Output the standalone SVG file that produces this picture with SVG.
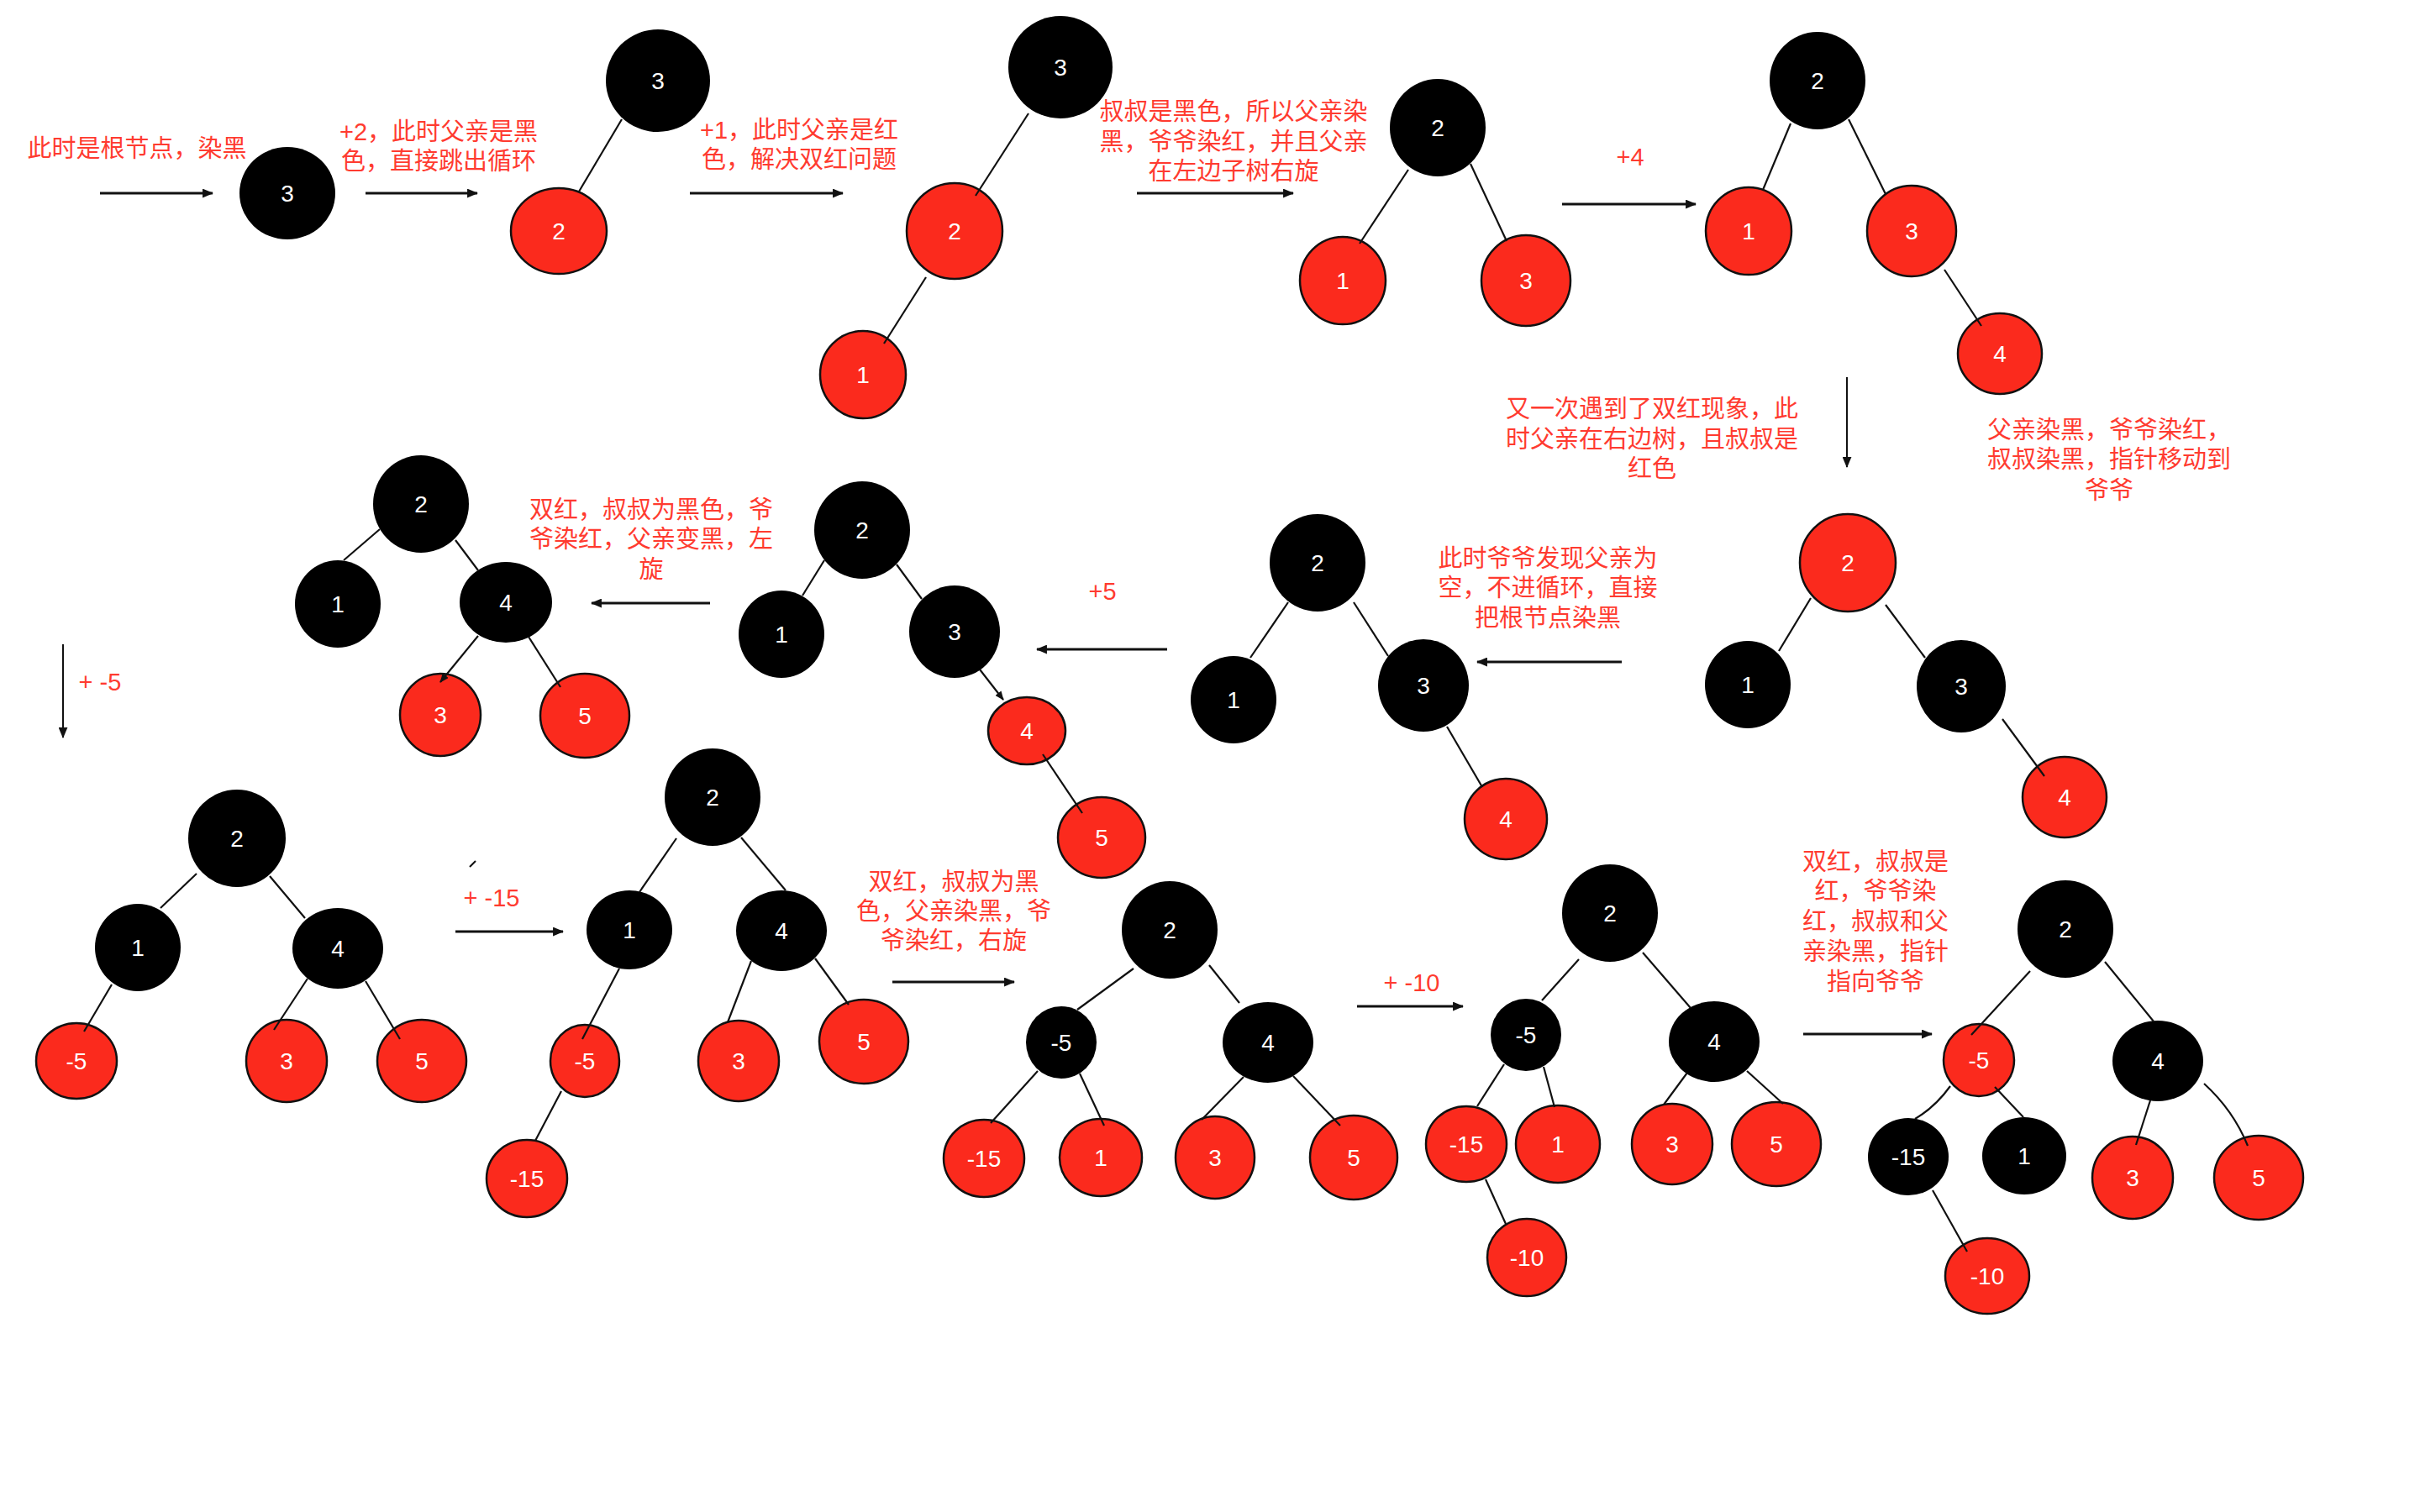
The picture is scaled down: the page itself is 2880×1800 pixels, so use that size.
<svg xmlns="http://www.w3.org/2000/svg" width="2880" height="1800" viewBox="0 0 2880 1800">
<defs>
<style>
.b{fill:#000}
.r{fill:#FB2A1D;stroke:#111;stroke-width:2.5}
.lbl{fill:#fff;font-family:"Liberation Sans","Noto Sans",sans-serif;font-size:28px;text-anchor:middle}
.note{fill:#FF3B30;font-family:"Liberation Sans","Noto Sans CJK SC",sans-serif;font-size:29px;text-anchor:middle}
.edge{stroke:#111;stroke-width:2.2;fill:none}
.arrow{stroke:#111;stroke-width:2.8;fill:none;marker-end:url(#ah)}
.arrowt{stroke:#111;stroke-width:2;fill:none;marker-end:url(#ah)}
.edgea{stroke:#111;stroke-width:2.2;fill:none;marker-end:url(#ah2)}
</style>
<marker id="ah" viewBox="0 0 12 10" refX="11" refY="5" markerWidth="13" markerHeight="11" markerUnits="userSpaceOnUse" orient="auto"><path d="M0,0 L12,5 L0,10 z" fill="#111"/></marker>
<marker id="ah2" viewBox="0 0 12 10" refX="11" refY="5" markerWidth="11" markerHeight="9" markerUnits="userSpaceOnUse" orient="auto"><path d="M0,0 L12,5 L0,10 z" fill="#111"/></marker>
</defs>
<rect width="2880" height="1800" fill="#fff"/>

<!-- notes -->
<g id="notes">
<text class="note" x="163" y="187">此时是根节点，染黑</text>
<text class="note" x="522" y="167">+2，此时父亲是黑</text>
<text class="note" x="522" y="202">色，直接跳出循环</text>
<text class="note" x="951" y="165">+1，此时父亲是红</text>
<text class="note" x="951" y="200">色，解决双红问题</text>
<text class="note" x="1468" y="143">叔叔是黑色，所以父亲染</text>
<text class="note" x="1468" y="179">黑，爷爷染红，并且父亲</text>
<text class="note" x="1468" y="214">在左边子树右旋</text>
<text class="note" x="1940" y="197">+4</text>
<text class="note" x="1966" y="497">又一次遇到了双红现象，此</text>
<text class="note" x="1966" y="533">时父亲在右边树，且叔叔是</text>
<text class="note" x="1966" y="568">红色</text>
<text class="note" x="2510" y="522">父亲染黑，爷爷染红，</text>
<text class="note" x="2510" y="557">叔叔染黑，指针移动到</text>
<text class="note" x="2510" y="594">爷爷</text>
<text class="note" x="1842" y="675">此时爷爷发现父亲为</text>
<text class="note" x="1842" y="710">空，不进循环，直接</text>
<text class="note" x="1842" y="746">把根节点染黑</text>
<text class="note" x="1312" y="714">+5</text>
<text class="note" x="775" y="617">双红，叔叔为黑色，爷</text>
<text class="note" x="775" y="652">爷染红，父亲变黑，左</text>
<text class="note" x="775" y="688">旋</text>
<text class="note" x="119" y="822">+ -5</text>
<text class="note" x="585" y="1079">+ -15</text>
<text class="note" x="1135" y="1060">双红，叔叔为黑</text>
<text class="note" x="1135" y="1095">色，父亲染黑，爷</text>
<text class="note" x="1135" y="1130">爷染红，右旋</text>
<text class="note" x="1680" y="1180">+ -10</text>
<text class="note" x="2232" y="1036">双红，叔叔是</text>
<text class="note" x="2232" y="1071">红，爷爷染</text>
<text class="note" x="2232" y="1107">红，叔叔和父</text>
<text class="note" x="2232" y="1143">亲染黑，指针</text>
<text class="note" x="2232" y="1179">指向爷爷</text>
</g>

<!-- nodes -->
<g id="n1"><ellipse class="b" cx="342" cy="230" rx="57" ry="55"/><text class="lbl" x="342" y="240">3</text></g>

<g id="tA-3"><ellipse class="b" cx="783" cy="96" rx="62" ry="61"/><text class="lbl" x="783" y="106">3</text></g>
<g id="tA-2"><ellipse class="r" cx="665" cy="275" rx="57" ry="51"/><text class="lbl" x="665" y="285">2</text></g>

<g id="tB-3"><ellipse class="b" cx="1262" cy="80" rx="62" ry="61"/><text class="lbl" x="1262" y="90">3</text></g>
<g id="tB-2"><ellipse class="r" cx="1136" cy="275" rx="57" ry="57"/><text class="lbl" x="1136" y="285">2</text></g>
<g id="tB-1"><ellipse class="r" cx="1027" cy="446" rx="51" ry="52"/><text class="lbl" x="1027" y="456">1</text></g>

<g id="tC-2"><ellipse class="b" cx="1711" cy="152" rx="57" ry="58"/><text class="lbl" x="1711" y="162">2</text></g>
<g id="tC-1"><ellipse class="r" cx="1598" cy="334" rx="51" ry="52"/><text class="lbl" x="1598" y="344">1</text></g>
<g id="tC-3"><ellipse class="r" cx="1816" cy="334" rx="53" ry="54"/><text class="lbl" x="1816" y="344">3</text></g>

<g id="tD-2"><ellipse class="b" cx="2163" cy="96" rx="57" ry="58"/><text class="lbl" x="2163" y="106">2</text></g>
<g id="tD-1"><ellipse class="r" cx="2081" cy="275" rx="51" ry="52"/><text class="lbl" x="2081" y="285">1</text></g>
<g id="tD-3"><ellipse class="r" cx="2275" cy="275" rx="53" ry="54"/><text class="lbl" x="2275" y="285">3</text></g>
<g id="tD-4"><ellipse class="r" cx="2380" cy="421" rx="50" ry="48"/><text class="lbl" x="2380" y="431">4</text></g>

<g id="tE-2"><ellipse class="r" cx="2199" cy="670" rx="57" ry="58"/><text class="lbl" x="2199" y="680">2</text></g>
<g id="tE-1"><ellipse class="b" cx="2080" cy="815" rx="51" ry="52"/><text class="lbl" x="2080" y="825">1</text></g>
<g id="tE-3"><ellipse class="b" cx="2334" cy="817" rx="53" ry="55"/><text class="lbl" x="2334" y="827">3</text></g>
<g id="tE-4"><ellipse class="r" cx="2457" cy="949" rx="50" ry="48"/><text class="lbl" x="2457" y="959">4</text></g>

<g id="tF-2"><ellipse class="b" cx="1568" cy="670" rx="57" ry="58"/><text class="lbl" x="1568" y="680">2</text></g>
<g id="tF-1"><ellipse class="b" cx="1468" cy="833" rx="51" ry="52"/><text class="lbl" x="1468" y="843">1</text></g>
<g id="tF-3"><ellipse class="b" cx="1694" cy="816" rx="54" ry="55"/><text class="lbl" x="1694" y="826">3</text></g>
<g id="tF-4"><ellipse class="r" cx="1792" cy="975" rx="49" ry="48"/><text class="lbl" x="1792" y="985">4</text></g>

<g id="tG-2"><ellipse class="b" cx="1026" cy="631" rx="57" ry="58"/><text class="lbl" x="1026" y="641">2</text></g>
<g id="tG-1"><ellipse class="b" cx="930" cy="755" rx="51" ry="52"/><text class="lbl" x="930" y="765">1</text></g>
<g id="tG-3"><ellipse class="b" cx="1136" cy="752" rx="54" ry="55"/><text class="lbl" x="1136" y="762">3</text></g>
<g id="tG-4"><ellipse class="r" cx="1222" cy="870" rx="46" ry="40"/><text class="lbl" x="1222" y="880">4</text></g>
<g id="tG-5"><ellipse class="r" cx="1311" cy="997" rx="52" ry="48"/><text class="lbl" x="1311" y="1007">5</text></g>

<g id="tH-2"><ellipse class="b" cx="501" cy="600" rx="57" ry="58"/><text class="lbl" x="501" y="610">2</text></g>
<g id="tH-1"><ellipse class="b" cx="402" cy="719" rx="51" ry="52"/><text class="lbl" x="402" y="729">1</text></g>
<g id="tH-4"><ellipse class="b" cx="602" cy="717" rx="55" ry="48"/><text class="lbl" x="602" y="727">4</text></g>
<g id="tH-3"><ellipse class="r" cx="524" cy="851" rx="48" ry="49"/><text class="lbl" x="524" y="861">3</text></g>
<g id="tH-5"><ellipse class="r" cx="696" cy="852" rx="53" ry="50"/><text class="lbl" x="696" y="862">5</text></g>

<g id="tI-2"><ellipse class="b" cx="282" cy="998" rx="58" ry="58"/><text class="lbl" x="282" y="1008">2</text></g>
<g id="tI-1"><ellipse class="b" cx="164" cy="1128" rx="51" ry="52"/><text class="lbl" x="164" y="1138">1</text></g>
<g id="tI-4"><ellipse class="b" cx="402" cy="1129" rx="54" ry="48"/><text class="lbl" x="402" y="1139">4</text></g>
<g id="tI-m5"><ellipse class="r" cx="91" cy="1263" rx="48" ry="45"/><text class="lbl" x="91" y="1273">-5</text></g>
<g id="tI-3"><ellipse class="r" cx="341" cy="1263" rx="48" ry="49"/><text class="lbl" x="341" y="1273">3</text></g>
<g id="tI-5"><ellipse class="r" cx="502" cy="1263" rx="53" ry="49"/><text class="lbl" x="502" y="1273">5</text></g>

<g id="tJ-2"><ellipse class="b" cx="848" cy="949" rx="57" ry="58"/><text class="lbl" x="848" y="959">2</text></g>
<g id="tJ-1"><ellipse class="b" cx="749" cy="1107" rx="51" ry="47"/><text class="lbl" x="749" y="1117">1</text></g>
<g id="tJ-4"><ellipse class="b" cx="930" cy="1108" rx="54" ry="48"/><text class="lbl" x="930" y="1118">4</text></g>
<g id="tJ-m5"><ellipse class="r" cx="696" cy="1263" rx="41" ry="43"/><text class="lbl" x="696" y="1273">-5</text></g>
<g id="tJ-3"><ellipse class="r" cx="879" cy="1263" rx="48" ry="48"/><text class="lbl" x="879" y="1273">3</text></g>
<g id="tJ-5"><ellipse class="r" cx="1028" cy="1240" rx="53" ry="50"/><text class="lbl" x="1028" y="1250">5</text></g>
<g id="tJ-m15"><ellipse class="r" cx="627" cy="1403" rx="48" ry="46"/><text class="lbl" x="627" y="1413">-15</text></g>

<g id="tK-2"><ellipse class="b" cx="1392" cy="1107" rx="57" ry="58"/><text class="lbl" x="1392" y="1117">2</text></g>
<g id="tK-m5"><ellipse class="b" cx="1263" cy="1241" rx="42" ry="43"/><text class="lbl" x="1263" y="1251">-5</text></g>
<g id="tK-4"><ellipse class="b" cx="1509" cy="1241" rx="54" ry="48"/><text class="lbl" x="1509" y="1251">4</text></g>
<g id="tK-m15"><ellipse class="r" cx="1171" cy="1379" rx="48" ry="46"/><text class="lbl" x="1171" y="1389">-15</text></g>
<g id="tK-1"><ellipse class="r" cx="1310" cy="1378" rx="49" ry="46"/><text class="lbl" x="1310" y="1388">1</text></g>
<g id="tK-3"><ellipse class="r" cx="1446" cy="1378" rx="47" ry="49"/><text class="lbl" x="1446" y="1388">3</text></g>
<g id="tK-5"><ellipse class="r" cx="1611" cy="1378" rx="52" ry="50"/><text class="lbl" x="1611" y="1388">5</text></g>

<g id="tL-2"><ellipse class="b" cx="1916" cy="1087" rx="57" ry="58"/><text class="lbl" x="1916" y="1097">2</text></g>
<g id="tL-m5"><ellipse class="b" cx="1816" cy="1232" rx="42" ry="43"/><text class="lbl" x="1816" y="1242">-5</text></g>
<g id="tL-4"><ellipse class="b" cx="2040" cy="1240" rx="54" ry="48"/><text class="lbl" x="2040" y="1250">4</text></g>
<g id="tL-m15"><ellipse class="r" cx="1745" cy="1362" rx="48" ry="45"/><text class="lbl" x="1745" y="1372">-15</text></g>
<g id="tL-1"><ellipse class="r" cx="1854" cy="1362" rx="50" ry="46"/><text class="lbl" x="1854" y="1372">1</text></g>
<g id="tL-3"><ellipse class="r" cx="1990" cy="1362" rx="48" ry="48"/><text class="lbl" x="1990" y="1372">3</text></g>
<g id="tL-5"><ellipse class="r" cx="2114" cy="1362" rx="53" ry="50"/><text class="lbl" x="2114" y="1372">5</text></g>
<g id="tL-m10"><ellipse class="r" cx="1817" cy="1497" rx="47" ry="46"/><text class="lbl" x="1817" y="1507">-10</text></g>

<g id="tM-2"><ellipse class="b" cx="2458" cy="1106" rx="57" ry="58"/><text class="lbl" x="2458" y="1116">2</text></g>
<g id="tM-m5"><ellipse class="r" cx="2355" cy="1262" rx="42" ry="43"/><text class="lbl" x="2355" y="1272">-5</text></g>
<g id="tM-4"><ellipse class="b" cx="2568" cy="1263" rx="54" ry="48"/><text class="lbl" x="2568" y="1273">4</text></g>
<g id="tM-m15"><ellipse class="b" cx="2271" cy="1377" rx="48" ry="46"/><text class="lbl" x="2271" y="1387">-15</text></g>
<g id="tM-1"><ellipse class="b" cx="2409" cy="1376" rx="50" ry="46"/><text class="lbl" x="2409" y="1386">1</text></g>
<g id="tM-3"><ellipse class="r" cx="2538" cy="1402" rx="48" ry="49"/><text class="lbl" x="2538" y="1412">3</text></g>
<g id="tM-5"><ellipse class="r" cx="2688" cy="1402" rx="53" ry="50"/><text class="lbl" x="2688" y="1412">5</text></g>
<g id="tM-m10"><ellipse class="r" cx="2365" cy="1519" rx="50" ry="45"/><text class="lbl" x="2365" y="1529">-10</text></g>

<!-- connectors -->
<g id="connectors">
<path class="arrow" d="M119,230 H253"/>
<path class="arrow" d="M435,230 H568"/>
<path class="arrow" d="M821,230 H1003"/>
<path class="arrow" d="M1353,230 H1539"/>
<path class="arrow" d="M1859,243 H2018"/>
<path class="arrowt" d="M2198,449 V556"/>
<path class="arrow" d="M1930,788 H1758"/>
<path class="arrow" d="M1389,773 H1234"/>
<path class="arrow" d="M845,718 H704"/>
<path class="arrowt" d="M75,767 V878"/>
<path class="arrow" d="M542,1109 H670"/>
<path class="arrow" d="M1062,1169 H1207"/>
<path class="arrow" d="M1615,1198 H1741"/>
<path class="arrow" d="M2146,1231 H2299"/>

<path class="edge" d="M740,142 L689,228"/>
<path class="edge" d="M1224,135 L1161,233"/>
<path class="edge" d="M1102,330 L1052,409"/>
<path class="edge" d="M1676,202 L1618,290"/>
<path class="edge" d="M1750,195 L1793,287"/>
<path class="edge" d="M2131,147 L2098,226"/>
<path class="edge" d="M2200,142 L2244,231"/>
<path class="edge" d="M2314,321 L2358,388"/>
<path class="edge" d="M2155,712 L2117,775"/>
<path class="edge" d="M2244,720 L2291,783"/>
<path class="edge" d="M2383,856 L2433,924"/>
<path class="edge" d="M1533,717 L1488,783"/>
<path class="edge" d="M1611,717 L1652,781"/>
<path class="edge" d="M1722,865 L1764,937"/>
<path class="edge" d="M981,667 L955,709"/>
<path class="edge" d="M1067,672 L1097,713"/>
<path class="edgea" d="M1166,797 L1194,833"/>
<path class="edge" d="M1241,898 L1288,968"/>
<path class="edge" d="M452,630 L409,667"/>
<path class="edge" d="M542,643 L569,679"/>
<path class="edgea" d="M569,757 L524,812"/>
<path class="edge" d="M629,758 L667,818"/>
<path class="edge" d="M234,1040 L191,1081"/>
<path class="edge" d="M321,1043 L363,1093"/>
<path class="edge" d="M133,1172 L100,1228"/>
<path class="edge" d="M366,1165 L326,1226"/>
<path class="edge" d="M435,1168 L476,1237"/>
<path class="edge" d="M805,998 L761,1062"/>
<path class="edge" d="M882,997 L935,1060"/>
<path class="edge" d="M737,1153 L693,1237"/>
<path class="edge" d="M668,1299 L637,1358"/>
<path class="edge" d="M894,1144 L866,1217"/>
<path class="edge" d="M970,1141 L1010,1196"/>
<path class="edge" d="M1349,1153 L1282,1202"/>
<path class="edge" d="M1439,1149 L1475,1194"/>
<path class="edge" d="M1235,1275 L1179,1337"/>
<path class="edge" d="M1285,1278 L1314,1340"/>
<path class="edge" d="M1480,1282 L1430,1333"/>
<path class="edge" d="M1539,1281 L1595,1340"/>
<path class="edge" d="M1879,1142 L1835,1191"/>
<path class="edge" d="M1955,1134 L2012,1200"/>
<path class="edge" d="M1790,1267 L1758,1317"/>
<path class="edge" d="M1837,1270 L1850,1318"/>
<path class="edge" d="M2008,1277 L1980,1315"/>
<path class="edge" d="M2079,1275 L2122,1314"/>
<path class="edge" d="M1768,1404 L1792,1457"/>
<path class="edge" d="M2416,1156 L2346,1232"/>
<path class="edge" d="M2505,1145 L2563,1216"/>
<path class="edge" d="M2321,1293 Q2303,1318 2279,1332"/>
<path class="edge" d="M2374,1294 L2408,1330"/>
<path class="edge" d="M2559,1310 L2542,1363"/>
<path class="edge" d="M2623,1290 Q2658,1322 2675,1364"/>
<path class="edge" d="M2300,1417 L2341,1490"/>
<path class="edge" d="M559,1032 L566,1025"/>
</g>
</svg>
